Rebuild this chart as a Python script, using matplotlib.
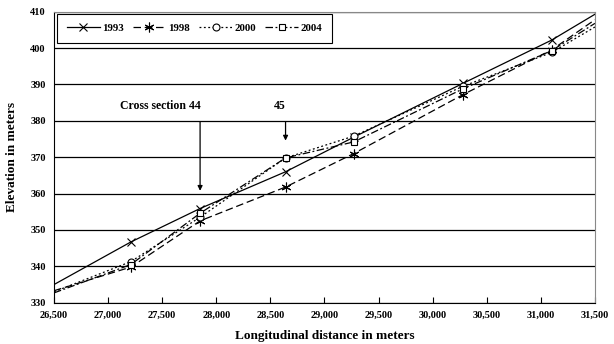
import matplotlib.pyplot as plt
from matplotlib.ticker import FuncFormatter

plt.rcParams['font.family'] = ['Liberation Serif', 'DejaVu Serif']
plt.rcParams['font.weight'] = 'bold'

# cross-section stations (m) incl. plot edges, elevations (m)
distance = [26500, 27210, 27850, 28640, 29270, 30280, 31100, 31500]
elev_1993 = [335.0, 346.7, 355.9, 366.0, 375.5, 390.3, 402.2, 409.3]
elev_1998 = [333.3, 339.8, 352.5, 361.8, 371.0, 387.2, 399.5, 407.8]
elev_2000 = [333.0, 341.3, 353.5, 369.8, 375.8, 389.5, 398.8, 405.8]
elev_2004 = [332.7, 340.5, 354.6, 369.8, 374.2, 388.8, 399.3, 406.8]
years = ['1993', '1998', '2000', '2004']

fig = plt.figure(figsize=(6.14, 3.44), dpi=100)
ax = fig.add_axes([0.088, 0.12, 0.881, 0.846])

marks = list(range(1, 7))
kw = dict(color='black', lw=0.9, markevery=marks, mec='black', mfc='white', mew=0.8)
ax.plot(distance, elev_1993, '-', marker='x', ms=6, label=years[0], **kw)
ax.plot(distance, elev_1998, marker=(6, 2, 0), ms=7, ls=(0, (6, 3)), label=years[1], **kw)
ax.plot(distance, elev_2000, marker='o', ms=5, ls=(0, (1.5, 2)), label=years[2], **kw)
ax.plot(distance, elev_2004, marker='s', ms=5, ls=(0, (6, 2, 1.5, 2)), label=years[3], **kw)

ax.set_xlim(26500, 31500)
ax.set_ylim(330, 410)
ax.set_xticks(range(26500, 31501, 500))
ax.set_yticks(range(330, 411, 10))
ax.xaxis.set_major_formatter(FuncFormatter(lambda v, p: f'{int(v):,}'))
ax.yaxis.grid(True, color='black', lw=0.9)
ax.set_axisbelow(True)
ax.tick_params(axis='x', direction='in', length=4, labelsize=7.5, pad=6)
ax.tick_params(axis='y', length=0, labelsize=7.5, pad=6)
for s in ['top', 'right']:
    ax.spines[s].set_color('#888888')
ax.spines['left'].set_color('black')
ax.spines['bottom'].set_color('black')

ax.set_xlabel('Longitudinal distance in meters', fontsize=9.5, fontweight='bold', labelpad=7)
ax.set_ylabel('Elevation in meters', fontsize=9.5, fontweight='bold', labelpad=9)

# cross-section arrows
ax.annotate('', xy=(27850, 360), xytext=(27850, 380.5),
            arrowprops=dict(arrowstyle='-|>', color='black', lw=0.9, mutation_scale=7))
ax.annotate('', xy=(28640, 373.8), xytext=(28640, 380.5),
            arrowprops=dict(arrowstyle='-|>', color='black', lw=0.9, mutation_scale=7))
ax.text(27480, 384, 'Cross section 44', ha='center', va='center', fontsize=8.5, fontweight='bold')
ax.text(28590, 384, '45', ha='center', va='center', fontsize=8.5, fontweight='bold')

leg = ax.legend(loc='upper left', bbox_to_anchor=(0.006, 0.993), borderaxespad=0, ncol=4,
                prop={'size': 7.8, 'weight': 'bold'}, handlelength=3.0, handletextpad=0.2,
                columnspacing=0.9, fancybox=False, framealpha=1, edgecolor='black',
                borderpad=0.9)
leg.get_frame().set_linewidth(0.8)

fig.savefig('out.png', dpi=100)
